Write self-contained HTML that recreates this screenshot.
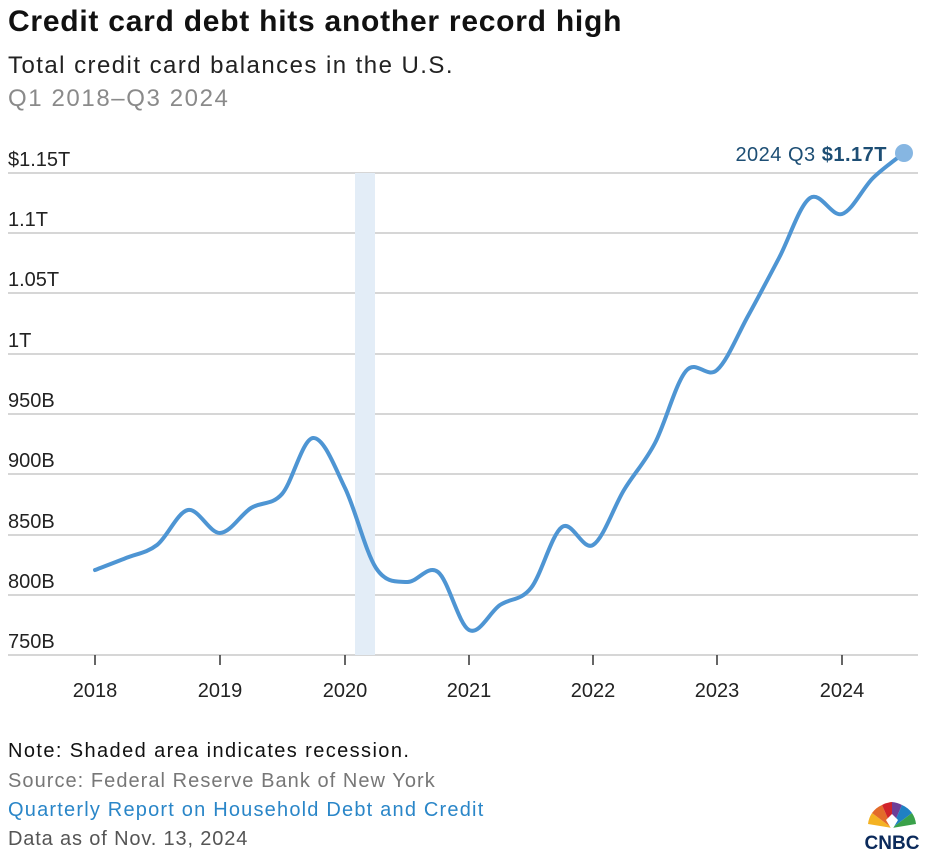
<!DOCTYPE html>
<html><head><meta charset="utf-8"><style>
body{margin:0;background:#fff;width:936px;height:862px;overflow:hidden;font-family:"Liberation Sans",sans-serif;position:relative}
.t{position:absolute;white-space:nowrap}
</style></head><body>
<div class="t" style="left:8px;top:5px;font-size:30px;font-weight:bold;color:#111;letter-spacing:0.75px">Credit card debt hits another record high</div>
<div class="t" style="left:8px;top:52px;font-size:24px;color:#222;letter-spacing:1.45px">Total credit card balances in the U.S.</div>
<div class="t" style="left:8px;top:85px;font-size:24px;color:#8a8a8a;letter-spacing:1.6px">Q1 2018–Q3 2024</div>
<svg width="936" height="862" style="position:absolute;left:0;top:0">
<g stroke="#d6d6d6" stroke-width="2">
<line x1="8" x2="918" y1="173" y2="173"/><line x1="8" x2="918" y1="233" y2="233"/><line x1="8" x2="918" y1="293" y2="293"/><line x1="8" x2="918" y1="354" y2="354"/><line x1="8" x2="918" y1="414" y2="414"/><line x1="8" x2="918" y1="474" y2="474"/><line x1="8" x2="918" y1="535" y2="535"/><line x1="8" x2="918" y1="595" y2="595"/><line x1="8" x2="918" y1="655" y2="655"/>
</g>
<rect x="355" y="173" width="20" height="482" fill="#e3edf7"/>
<g stroke="#333" stroke-width="1.5">
<line x1="95" x2="95" y1="655" y2="665"/><line x1="220" x2="220" y1="655" y2="665"/><line x1="345" x2="345" y1="655" y2="665"/><line x1="469" x2="469" y1="655" y2="665"/><line x1="593" x2="593" y1="655" y2="665"/><line x1="717" x2="717" y1="655" y2="665"/><line x1="842" x2="842" y1="655" y2="665"/>
</g>
<g font-family="Liberation Sans, sans-serif" font-size="20" fill="#222">
<text x="8" y="166">$1.15T</text><text x="8" y="226">1.1T</text><text x="8" y="286">1.05T</text><text x="8" y="347">1T</text><text x="8" y="407">950B</text><text x="8" y="467">900B</text><text x="8" y="528">850B</text><text x="8" y="588">800B</text><text x="8" y="648">750B</text>
</g>
<g font-family="Liberation Sans, sans-serif" font-size="20" fill="#222" text-anchor="middle">
<text x="95" y="697">2018</text><text x="220" y="697">2019</text><text x="345" y="697">2020</text><text x="469" y="697">2021</text><text x="593" y="697">2022</text><text x="717" y="697">2023</text><text x="842" y="697">2024</text>
</g>
<path id="ln" fill="none" stroke="#4e95d3" stroke-width="4" stroke-linecap="round" stroke-linejoin="round" d=""/>
<circle cx="904" cy="153" r="9" fill="#86b6e2"/>
<text x="887" y="161" text-anchor="end" font-family="Liberation Sans, sans-serif" font-size="20" fill="#1d4e74" letter-spacing="0.5">2024 Q3 <tspan font-weight="bold">$1.17T</tspan></text>
<g transform="translate(892,828)">
<path d="M0 0 L-24 -4 A24 24 0 0 1 -20 -15 Z" fill="#f4b223"/>
<path d="M0 0 L-20 -15 A24 24 0 0 1 -10 -23 Z" fill="#e36b2a"/>
<path d="M0 0 L-10 -23 A24 24 0 0 1 0 -26 Z" fill="#d1232a"/>
<path d="M0 0 L0 -26 A24 24 0 0 1 10 -23 Z" fill="#6e3f97"/>
<path d="M0 0 L10 -23 A24 24 0 0 1 20 -15 Z" fill="#1f80c3"/>
<path d="M0 0 L20 -15 A24 24 0 0 1 24 -4 Z" fill="#3aa14a"/>
<path d="M0 2 L-6 -8 L0 -14 L6 -8 Z" fill="#fff"/>
</g>
<text x="892" y="849" text-anchor="middle" font-family="Liberation Sans, sans-serif" font-size="19" font-weight="bold" fill="#0b2a5b">CNBC</text>
</svg>
<div class="t" style="left:8px;top:740px;font-size:20px;color:#111;letter-spacing:1.4px">Note: Shaded area indicates recession.</div>
<div class="t" style="left:8px;top:770px;font-size:20px;color:#777;letter-spacing:1.05px">Source: Federal Reserve Bank of New York</div>
<div class="t" style="left:8px;top:799px;font-size:20px;color:#2a86c8;letter-spacing:1.2px">Quarterly Report on Household Debt and Credit</div>
<div class="t" style="left:8px;top:828px;font-size:20px;color:#555;letter-spacing:0.85px">Data as of Nov. 13, 2024</div>
<script>
var p=[[95,570],[126,558],[157,545],[188,510],[220,533],[251,508],[282,494],[313,438],[345,488],[376,568],[407,582],[438,572],[469,630],[500,605],[531,588],[562,527],[593,545],[624,490],[655,443],[686,371],[717,370],[748,316],[779,258],[810,198],[842,214],[873,178],[904,153]];
var d="M"+p[0][0]+" "+p[0][1];
for(var i=0;i<p.length-1;i++){var a=p[Math.max(i-1,0)],b=p[i],c=p[i+1],e=p[Math.min(i+2,p.length-1)];
var c1x=b[0]+(c[0]-a[0])/6,c1y=b[1]+(c[1]-a[1])/6,c2x=c[0]-(e[0]-b[0])/6,c2y=c[1]-(e[1]-b[1])/6;
d+=" C"+c1x+" "+c1y+" "+c2x+" "+c2y+" "+c[0]+" "+c[1];}
document.getElementById("ln").setAttribute("d",d);
</script>
</body></html>
